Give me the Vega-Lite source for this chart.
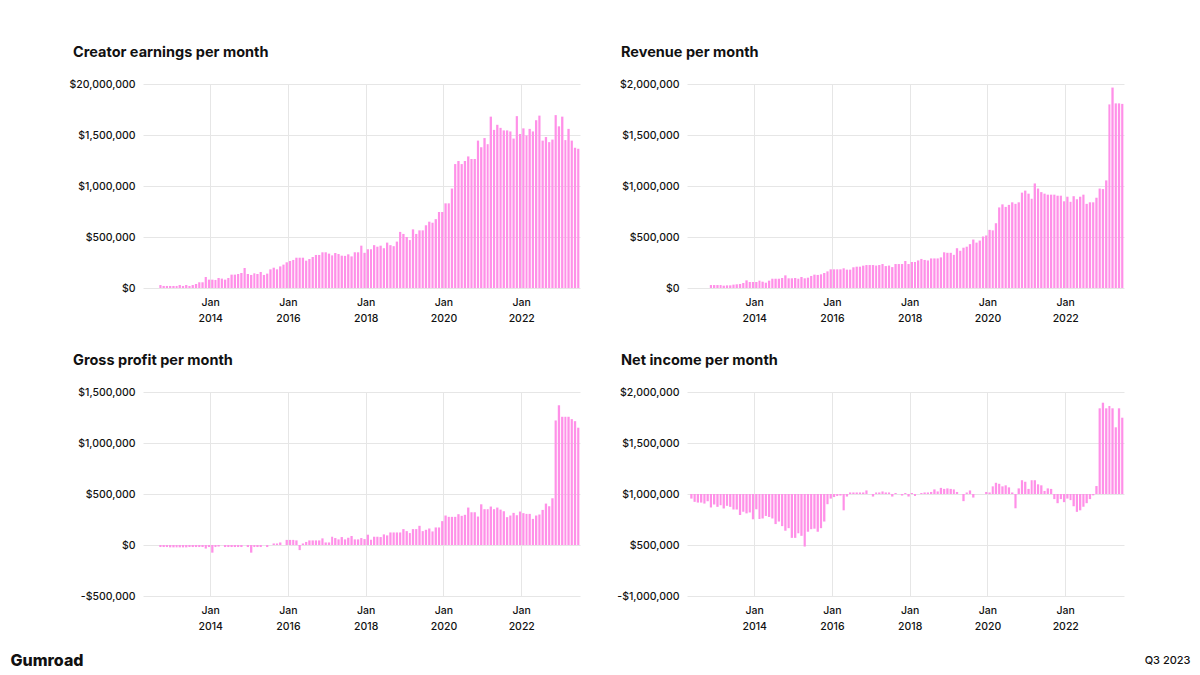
{
  "$schema": "https://vega.github.io/schema/vega-lite/v6.json",
  "background": "white",
  "padding": {"left": 10, "top": 44, "right": 5, "bottom": 5},
  "columns": 2,
  "spacing": {"row": 28, "column": 36},
  "config": {
    "view": {"stroke": null},
    "font": "Inter",
    "axis": {"domain": false, "ticks": false, "labelFont": "Inter", "labelFontSize": 10.5, "labelFontWeight": 500, "labelColor": "#111111", "gridColor": "#e6e6e6", "gridWidth": 1, "titleFont": "Inter", "titleColor": "#111111"},
    "axisX": {"labelPadding": 9, "labelLineHeight": 16},
    "axisY": {"labelPadding": 8},
    "title": {"font": "Inter", "fontSize": 14.5, "fontWeight": 700, "anchor": "start", "frame": "group", "dx": -70, "offset": 19, "color": "#111111"},
    "bar": {"color": "#ff90e8"}
  },
  "datasets": {
    "monthly": [
      {"date": "2012-05-01", "creator": null, "revenue": null, "gross": null, "net": -45000},
      {"date": "2012-06-01", "creator": null, "revenue": null, "gross": null, "net": -77000},
      {"date": "2012-07-01", "creator": null, "revenue": null, "gross": null, "net": -84000},
      {"date": "2012-08-01", "creator": null, "revenue": null, "gross": null, "net": -84000},
      {"date": "2012-09-01", "creator": 29000, "revenue": null, "gross": -20000, "net": -94000},
      {"date": "2012-10-01", "creator": 20000, "revenue": null, "gross": -20000, "net": -71000},
      {"date": "2012-11-01", "creator": 20000, "revenue": 29000, "gross": -20000, "net": -132000},
      {"date": "2012-12-01", "creator": 20000, "revenue": 29000, "gross": -23000, "net": -103000},
      {"date": "2013-01-01", "creator": 20000, "revenue": 29000, "gross": -23000, "net": -126000},
      {"date": "2013-02-01", "creator": 20000, "revenue": 29000, "gross": -23000, "net": -110000},
      {"date": "2013-03-01", "creator": 29000, "revenue": 23000, "gross": -23000, "net": -142000},
      {"date": "2013-04-01", "creator": 20000, "revenue": 26000, "gross": -23000, "net": -116000},
      {"date": "2013-05-01", "creator": 29000, "revenue": 26000, "gross": -23000, "net": -126000},
      {"date": "2013-06-01", "creator": 20000, "revenue": 33000, "gross": -20000, "net": -152000},
      {"date": "2013-07-01", "creator": 29000, "revenue": 36000, "gross": -20000, "net": -152000},
      {"date": "2013-08-01", "creator": 39000, "revenue": 39000, "gross": -20000, "net": -206000},
      {"date": "2013-09-01", "creator": 56000, "revenue": 49000, "gross": -20000, "net": -174000},
      {"date": "2013-10-01", "creator": 56000, "revenue": 75000, "gross": -20000, "net": -190000},
      {"date": "2013-11-01", "creator": 108000, "revenue": 59000, "gross": -35000, "net": -181000},
      {"date": "2013-12-01", "creator": 82000, "revenue": 59000, "gross": -20000, "net": -248000},
      {"date": "2014-01-01", "creator": 82000, "revenue": 59000, "gross": -75000, "net": -150000},
      {"date": "2014-02-01", "creator": 79000, "revenue": 72000, "gross": -20000, "net": -245000},
      {"date": "2014-03-01", "creator": 98000, "revenue": 62000, "gross": -15000, "net": -240000},
      {"date": "2014-04-01", "creator": 92000, "revenue": 52000, "gross": 0, "net": -215000},
      {"date": "2014-05-01", "creator": 82000, "revenue": 72000, "gross": -20000, "net": -225000},
      {"date": "2014-06-01", "creator": 98000, "revenue": 91000, "gross": -20000, "net": -240000},
      {"date": "2014-07-01", "creator": 131000, "revenue": 91000, "gross": -20000, "net": -295000},
      {"date": "2014-08-01", "creator": 131000, "revenue": 91000, "gross": -20000, "net": -270000},
      {"date": "2014-09-01", "creator": 137000, "revenue": 98000, "gross": -20000, "net": -315000},
      {"date": "2014-10-01", "creator": 147000, "revenue": 124000, "gross": -20000, "net": -360000},
      {"date": "2014-11-01", "creator": 196000, "revenue": 95000, "gross": 0, "net": -335000},
      {"date": "2014-12-01", "creator": 137000, "revenue": 95000, "gross": -20000, "net": -430000},
      {"date": "2015-01-01", "creator": 128000, "revenue": 98000, "gross": -75000, "net": -430000},
      {"date": "2015-02-01", "creator": 144000, "revenue": 91000, "gross": -20000, "net": -385000},
      {"date": "2015-03-01", "creator": 137000, "revenue": 108000, "gross": -20000, "net": -410000},
      {"date": "2015-04-01", "creator": 157000, "revenue": 95000, "gross": -20000, "net": -515000},
      {"date": "2015-05-01", "creator": 128000, "revenue": 101000, "gross": 0, "net": -370000},
      {"date": "2015-06-01", "creator": 141000, "revenue": 118000, "gross": -20000, "net": -345000},
      {"date": "2015-07-01", "creator": 183000, "revenue": 131000, "gross": 0, "net": -340000},
      {"date": "2015-08-01", "creator": 199000, "revenue": 128000, "gross": 15000, "net": -370000},
      {"date": "2015-09-01", "creator": 183000, "revenue": 134000, "gross": 15000, "net": -335000},
      {"date": "2015-10-01", "creator": 212000, "revenue": 147000, "gross": 25000, "net": -270000},
      {"date": "2015-11-01", "creator": 229000, "revenue": 163000, "gross": 0, "net": -100000},
      {"date": "2015-12-01", "creator": 252000, "revenue": 183000, "gross": 50000, "net": -45000},
      {"date": "2016-01-01", "creator": 265000, "revenue": 183000, "gross": 50000, "net": -30000},
      {"date": "2016-02-01", "creator": 275000, "revenue": 183000, "gross": 50000, "net": -20000},
      {"date": "2016-03-01", "creator": 297000, "revenue": 183000, "gross": 45000, "net": -15000},
      {"date": "2016-04-01", "creator": 297000, "revenue": 193000, "gross": -50000, "net": -160000},
      {"date": "2016-05-01", "creator": 297000, "revenue": 180000, "gross": 15000, "net": -25000},
      {"date": "2016-06-01", "creator": 268000, "revenue": 180000, "gross": 30000, "net": 15000},
      {"date": "2016-07-01", "creator": 284000, "revenue": 203000, "gross": 45000, "net": 15000},
      {"date": "2016-08-01", "creator": 304000, "revenue": 209000, "gross": 45000, "net": 15000},
      {"date": "2016-09-01", "creator": 324000, "revenue": 209000, "gross": 45000, "net": 15000},
      {"date": "2016-10-01", "creator": 324000, "revenue": 219000, "gross": 45000, "net": 15000},
      {"date": "2016-11-01", "creator": 350000, "revenue": 225000, "gross": 65000, "net": 35000},
      {"date": "2016-12-01", "creator": 350000, "revenue": 225000, "gross": 25000, "net": 0},
      {"date": "2017-01-01", "creator": 337000, "revenue": 225000, "gross": 25000, "net": -25000},
      {"date": "2017-02-01", "creator": 320000, "revenue": 220000, "gross": 81000, "net": 15000},
      {"date": "2017-03-01", "creator": 343000, "revenue": 225000, "gross": 68000, "net": 15000},
      {"date": "2017-04-01", "creator": 333000, "revenue": 235000, "gross": 55000, "net": 25000},
      {"date": "2017-05-01", "creator": 317000, "revenue": 215000, "gross": 78000, "net": 15000},
      {"date": "2017-06-01", "creator": 315000, "revenue": 220000, "gross": 55000, "net": 15000},
      {"date": "2017-07-01", "creator": 330000, "revenue": 205000, "gross": 71000, "net": -25000},
      {"date": "2017-08-01", "creator": 310000, "revenue": 235000, "gross": 88000, "net": 10000},
      {"date": "2017-09-01", "creator": 350000, "revenue": 235000, "gross": 55000, "net": 0},
      {"date": "2017-10-01", "creator": 350000, "revenue": 235000, "gross": 55000, "net": -15000},
      {"date": "2017-11-01", "creator": 415000, "revenue": 265000, "gross": 68000, "net": 10000},
      {"date": "2017-12-01", "creator": 345000, "revenue": 235000, "gross": 58000, "net": -25000},
      {"date": "2018-01-01", "creator": 380000, "revenue": 255000, "gross": 101000, "net": 10000},
      {"date": "2018-02-01", "creator": 380000, "revenue": 255000, "gross": 52000, "net": -20000},
      {"date": "2018-03-01", "creator": 420000, "revenue": 270000, "gross": 81000, "net": 0},
      {"date": "2018-04-01", "creator": 405000, "revenue": 285000, "gross": 81000, "net": 10000},
      {"date": "2018-05-01", "creator": 415000, "revenue": 275000, "gross": 78000, "net": 15000},
      {"date": "2018-06-01", "creator": 390000, "revenue": 270000, "gross": 104000, "net": 15000},
      {"date": "2018-07-01", "creator": 445000, "revenue": 290000, "gross": 94000, "net": 20000},
      {"date": "2018-08-01", "creator": 420000, "revenue": 290000, "gross": 123000, "net": 45000},
      {"date": "2018-09-01", "creator": 410000, "revenue": 290000, "gross": 123000, "net": 25000},
      {"date": "2018-10-01", "creator": 455000, "revenue": 300000, "gross": 123000, "net": 60000},
      {"date": "2018-11-01", "creator": 550000, "revenue": 350000, "gross": 123000, "net": 50000},
      {"date": "2018-12-01", "creator": 530000, "revenue": 345000, "gross": 156000, "net": 55000},
      {"date": "2019-01-01", "creator": 500000, "revenue": 345000, "gross": 136000, "net": 50000},
      {"date": "2019-02-01", "creator": 470000, "revenue": 325000, "gross": 117000, "net": 45000},
      {"date": "2019-03-01", "creator": 575000, "revenue": 390000, "gross": 156000, "net": 20000},
      {"date": "2019-04-01", "creator": 530000, "revenue": 365000, "gross": 156000, "net": 0},
      {"date": "2019-05-01", "creator": 565000, "revenue": 395000, "gross": 188000, "net": -70000},
      {"date": "2019-06-01", "creator": 565000, "revenue": 405000, "gross": 136000, "net": 15000},
      {"date": "2019-07-01", "creator": 615000, "revenue": 430000, "gross": 149000, "net": 35000},
      {"date": "2019-08-01", "creator": 650000, "revenue": 475000, "gross": 162000, "net": -35000},
      {"date": "2019-09-01", "creator": 640000, "revenue": 445000, "gross": 133000, "net": 0},
      {"date": "2019-10-01", "creator": 675000, "revenue": 465000, "gross": 172000, "net": 0},
      {"date": "2019-11-01", "creator": 745000, "revenue": 505000, "gross": 172000, "net": 0},
      {"date": "2019-12-01", "creator": 745000, "revenue": 515000, "gross": 234000, "net": 20000},
      {"date": "2020-01-01", "creator": 830000, "revenue": 570000, "gross": 289000, "net": 15000},
      {"date": "2020-02-01", "creator": 830000, "revenue": 565000, "gross": 276000, "net": 75000},
      {"date": "2020-03-01", "creator": 975000, "revenue": 635000, "gross": 276000, "net": 110000},
      {"date": "2020-04-01", "creator": 1215000, "revenue": 790000, "gross": 276000, "net": 100000},
      {"date": "2020-05-01", "creator": 1245000, "revenue": 820000, "gross": 302000, "net": 75000},
      {"date": "2020-06-01", "creator": 1215000, "revenue": 795000, "gross": 286000, "net": 85000},
      {"date": "2020-07-01", "creator": 1245000, "revenue": 815000, "gross": 296000, "net": 65000},
      {"date": "2020-08-01", "creator": 1290000, "revenue": 840000, "gross": 367000, "net": 15000},
      {"date": "2020-09-01", "creator": 1265000, "revenue": 825000, "gross": 321000, "net": -140000},
      {"date": "2020-10-01", "creator": 1265000, "revenue": 840000, "gross": 321000, "net": 55000},
      {"date": "2020-11-01", "creator": 1445000, "revenue": 935000, "gross": 279000, "net": 135000},
      {"date": "2020-12-01", "creator": 1380000, "revenue": 955000, "gross": 399000, "net": 120000},
      {"date": "2021-01-01", "creator": 1470000, "revenue": 925000, "gross": 351000, "net": 50000},
      {"date": "2021-02-01", "creator": 1410000, "revenue": 875000, "gross": 351000, "net": 135000},
      {"date": "2021-03-01", "creator": 1680000, "revenue": 1025000, "gross": 377000, "net": 135000},
      {"date": "2021-04-01", "creator": 1550000, "revenue": 975000, "gross": 351000, "net": 95000},
      {"date": "2021-05-01", "creator": 1600000, "revenue": 940000, "gross": 367000, "net": 85000},
      {"date": "2021-06-01", "creator": 1570000, "revenue": 925000, "gross": 347000, "net": 30000},
      {"date": "2021-07-01", "creator": 1545000, "revenue": 915000, "gross": 331000, "net": 55000},
      {"date": "2021-08-01", "creator": 1545000, "revenue": 915000, "gross": 273000, "net": 50000},
      {"date": "2021-09-01", "creator": 1535000, "revenue": 915000, "gross": 289000, "net": -50000},
      {"date": "2021-10-01", "creator": 1465000, "revenue": 905000, "gross": 315000, "net": -90000},
      {"date": "2021-11-01", "creator": 1685000, "revenue": 905000, "gross": 292000, "net": -50000},
      {"date": "2021-12-01", "creator": 1510000, "revenue": 850000, "gross": 328000, "net": -80000},
      {"date": "2022-01-01", "creator": 1565000, "revenue": 895000, "gross": 312000, "net": -45000},
      {"date": "2022-02-01", "creator": 1495000, "revenue": 845000, "gross": 305000, "net": -60000},
      {"date": "2022-03-01", "creator": 1560000, "revenue": 900000, "gross": 305000, "net": -120000},
      {"date": "2022-04-01", "creator": 1535000, "revenue": 870000, "gross": 256000, "net": -175000},
      {"date": "2022-05-01", "creator": 1645000, "revenue": 895000, "gross": 289000, "net": -160000},
      {"date": "2022-06-01", "creator": 1690000, "revenue": 915000, "gross": 299000, "net": -125000},
      {"date": "2022-07-01", "creator": 1445000, "revenue": 825000, "gross": 344000, "net": -90000},
      {"date": "2022-08-01", "creator": 1480000, "revenue": 840000, "gross": 406000, "net": -50000},
      {"date": "2022-09-01", "creator": 1430000, "revenue": 840000, "gross": 380000, "net": -13000},
      {"date": "2022-10-01", "creator": 1455000, "revenue": 885000, "gross": 458000, "net": 78000},
      {"date": "2022-11-01", "creator": 1695000, "revenue": 975000, "gross": 1221000, "net": 840000},
      {"date": "2022-12-01", "creator": 1585000, "revenue": 970000, "gross": 1370000, "net": 895000},
      {"date": "2023-01-01", "creator": 1680000, "revenue": 1055000, "gross": 1257000, "net": 840000},
      {"date": "2023-02-01", "creator": 1450000, "revenue": 1800000, "gross": 1257000, "net": 863000},
      {"date": "2023-03-01", "creator": 1560000, "revenue": 1965000, "gross": 1257000, "net": 840000},
      {"date": "2023-04-01", "creator": 1445000, "revenue": 1810000, "gross": 1234000, "net": 654000},
      {"date": "2023-05-01", "creator": 1375000, "revenue": 1810000, "gross": 1214000, "net": 840000},
      {"date": "2023-06-01", "creator": 1365000, "revenue": 1805000, "gross": 1150000, "net": 748000}
    ]
  },
  "data": {"name": "monthly"},
  "concat": [
    {
      "title": {"text": "Creator earnings per month"},
      "width": 437,
      "height": 204,
      "mark": {"type": "bar"},
      "encoding": {
        "x": {
          "field": "date", "timeUnit": "utcyearmonth", "type": "temporal",
          "scale": {"domain": [{"year": 2012, "month": 4, "date": 10, "utc": true}, {"year": 2023, "month": 7, "date": 7, "utc": true}]},
          "axis": {"title": null, "grid": true, "values": [{"year": 2014, "month": 1, "date": 1, "utc": true}, {"year": 2016, "month": 1, "date": 1, "utc": true}, {"year": 2018, "month": 1, "date": 1, "utc": true}, {"year": 2020, "month": 1, "date": 1, "utc": true}, {"year": 2022, "month": 1, "date": 1, "utc": true}], "labelExpr": "['Jan', utcFormat(datum.value, '%Y')]"}
        },
        "y": {
          "field": "creator", "type": "quantitative",
          "scale": {"domain": [0, 2000000], "nice": false},
          "axis": {"title": null, "grid": true, "values": [0, 500000, 1000000, 1500000, 2000000], "labelExpr": "datum.value == 2000000 ? '$20,000,000' : format(datum.value, '$,.0f')"}
        }
      }
    },
    {
      "title": {"text": "Revenue per month", "dx": -66},
      "width": 437,
      "height": 204,
      "mark": {"type": "bar"},
      "encoding": {
        "x": {
          "field": "date", "timeUnit": "utcyearmonth", "type": "temporal",
          "scale": {"domain": [{"year": 2012, "month": 4, "date": 10, "utc": true}, {"year": 2023, "month": 7, "date": 7, "utc": true}]},
          "axis": {"title": null, "grid": true, "values": [{"year": 2014, "month": 1, "date": 1, "utc": true}, {"year": 2016, "month": 1, "date": 1, "utc": true}, {"year": 2018, "month": 1, "date": 1, "utc": true}, {"year": 2020, "month": 1, "date": 1, "utc": true}, {"year": 2022, "month": 1, "date": 1, "utc": true}], "labelExpr": "['Jan', utcFormat(datum.value, '%Y')]"}
        },
        "y": {
          "field": "revenue", "type": "quantitative",
          "scale": {"domain": [0, 2000000], "nice": false},
          "axis": {"title": null, "grid": true, "values": [0, 500000, 1000000, 1500000, 2000000], "labelExpr": "format(datum.value, '$,.0f')"}
        }
      }
    },
    {
      "title": {"text": "Gross profit per month"},
      "width": 437,
      "height": 204,
      "mark": {"type": "bar"},
      "encoding": {
        "x": {
          "field": "date", "timeUnit": "utcyearmonth", "type": "temporal",
          "scale": {"domain": [{"year": 2012, "month": 4, "date": 10, "utc": true}, {"year": 2023, "month": 7, "date": 7, "utc": true}]},
          "axis": {"title": "Gumroad", "titleX": -133, "titleY": 64, "titleAlign": "left", "titleBaseline": "middle", "titleFontSize": 16, "titleFontWeight": 800, "grid": true, "values": [{"year": 2014, "month": 1, "date": 1, "utc": true}, {"year": 2016, "month": 1, "date": 1, "utc": true}, {"year": 2018, "month": 1, "date": 1, "utc": true}, {"year": 2020, "month": 1, "date": 1, "utc": true}, {"year": 2022, "month": 1, "date": 1, "utc": true}], "labelExpr": "['Jan', utcFormat(datum.value, '%Y')]"}
        },
        "y": {
          "field": "gross", "type": "quantitative",
          "scale": {"domain": [-500000, 1500000], "nice": false},
          "axis": {"title": null, "grid": true, "values": [-500000, 0, 500000, 1000000, 1500000], "labelExpr": "datum.value < 0 ? '-' + format(-datum.value, '$,.0f') : format(datum.value, '$,.0f')"}
        }
      }
    },
    {
      "title": {"text": "Net income per month", "dx": -66},
      "width": 437,
      "height": 204,
      "mark": {"type": "bar"},
      "encoding": {
        "x": {
          "field": "date", "timeUnit": "utcyearmonth", "type": "temporal",
          "scale": {"domain": [{"year": 2012, "month": 4, "date": 10, "utc": true}, {"year": 2023, "month": 7, "date": 7, "utc": true}]},
          "axis": {"title": "Q3 2023", "titleX": 503, "titleY": 64, "titleAlign": "right", "titleBaseline": "middle", "titleFontSize": 11, "titleFontWeight": 500, "grid": true, "values": [{"year": 2014, "month": 1, "date": 1, "utc": true}, {"year": 2016, "month": 1, "date": 1, "utc": true}, {"year": 2018, "month": 1, "date": 1, "utc": true}, {"year": 2020, "month": 1, "date": 1, "utc": true}, {"year": 2022, "month": 1, "date": 1, "utc": true}], "labelExpr": "['Jan', utcFormat(datum.value, '%Y')]"}
        },
        "y": {
          "field": "net", "type": "quantitative",
          "scale": {"domain": [-1000000, 1000000], "nice": false},
          "axis": {"title": null, "grid": true, "values": [-1000000, -500000, 0, 500000, 1000000], "labelExpr": "datum.value == -1000000 ? '-$1,000,000' : format(datum.value + 1000000, '$,.0f')"}
        }
      }
    }
  ]
}
